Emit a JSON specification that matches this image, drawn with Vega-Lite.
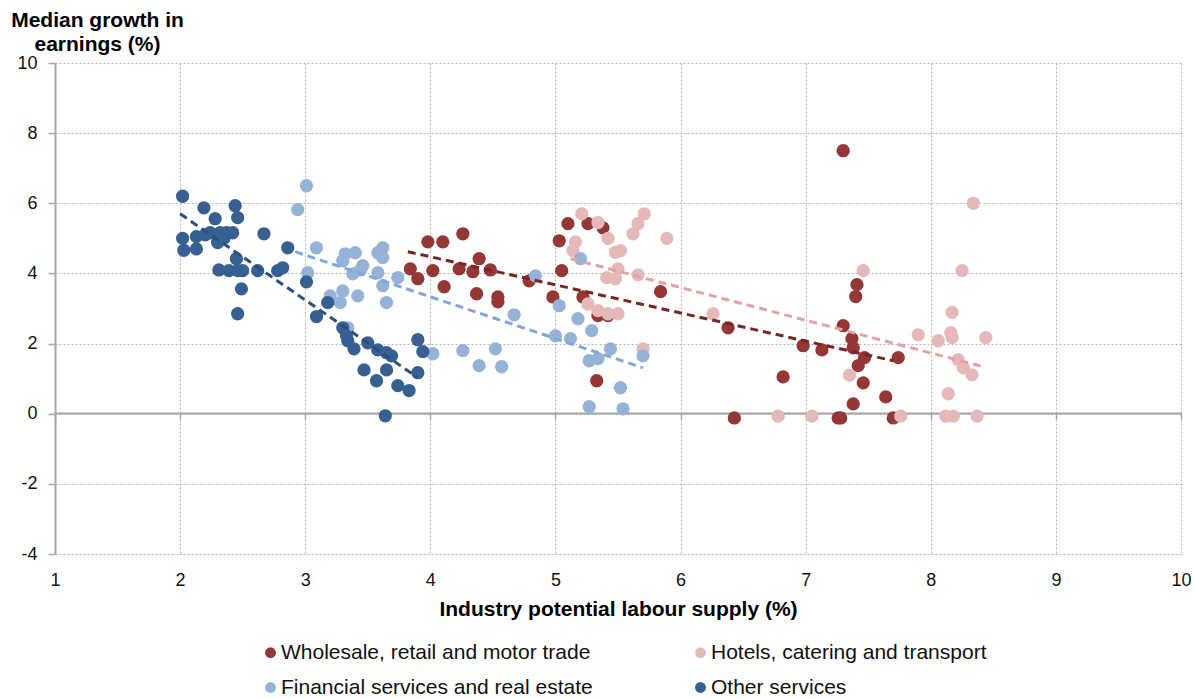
{
  "$schema": "https://vega.github.io/schema/vega-lite/v6.json",
  "width": 1126,
  "height": 491,
  "autosize": {"type": "none"},
  "padding": {"left": 55, "top": 63, "right": 14, "bottom": 145},
  "background": "white",
  "config": {
    "font": "Liberation Sans",
    "view": {"stroke": null},
    "axis": {"labelColor": "#111111", "titleColor": "#000000"}
  },
  "datasets": {
    "points": [
      {"industry": "Wholesale, retail and motor trade", "supply": 3.98, "growth": 4.9},
      {"industry": "Wholesale, retail and motor trade", "supply": 4.1, "growth": 4.9},
      {"industry": "Wholesale, retail and motor trade", "supply": 4.26, "growth": 5.13},
      {"industry": "Wholesale, retail and motor trade", "supply": 3.84, "growth": 4.13},
      {"industry": "Wholesale, retail and motor trade", "supply": 3.9, "growth": 3.85},
      {"industry": "Wholesale, retail and motor trade", "supply": 4.02, "growth": 4.08},
      {"industry": "Wholesale, retail and motor trade", "supply": 4.11, "growth": 3.62},
      {"industry": "Wholesale, retail and motor trade", "supply": 4.23, "growth": 4.13},
      {"industry": "Wholesale, retail and motor trade", "supply": 4.39, "growth": 4.42},
      {"industry": "Wholesale, retail and motor trade", "supply": 4.34, "growth": 4.05},
      {"industry": "Wholesale, retail and motor trade", "supply": 4.48, "growth": 4.1},
      {"industry": "Wholesale, retail and motor trade", "supply": 4.37, "growth": 3.42},
      {"industry": "Wholesale, retail and motor trade", "supply": 4.54, "growth": 3.33},
      {"industry": "Wholesale, retail and motor trade", "supply": 4.54, "growth": 3.19},
      {"industry": "Wholesale, retail and motor trade", "supply": 4.79, "growth": 3.79},
      {"industry": "Wholesale, retail and motor trade", "supply": 5.03, "growth": 4.93},
      {"industry": "Wholesale, retail and motor trade", "supply": 4.98, "growth": 3.33},
      {"industry": "Wholesale, retail and motor trade", "supply": 5.1, "growth": 5.42},
      {"industry": "Wholesale, retail and motor trade", "supply": 5.26, "growth": 5.42},
      {"industry": "Wholesale, retail and motor trade", "supply": 5.38, "growth": 5.3},
      {"industry": "Wholesale, retail and motor trade", "supply": 5.05, "growth": 4.08},
      {"industry": "Wholesale, retail and motor trade", "supply": 5.22, "growth": 3.33},
      {"industry": "Wholesale, retail and motor trade", "supply": 5.34, "growth": 2.8},
      {"industry": "Wholesale, retail and motor trade", "supply": 5.42, "growth": 2.8},
      {"industry": "Wholesale, retail and motor trade", "supply": 5.84, "growth": 3.48},
      {"industry": "Wholesale, retail and motor trade", "supply": 5.33, "growth": 0.94},
      {"industry": "Wholesale, retail and motor trade", "supply": 7.3, "growth": 7.5},
      {"industry": "Wholesale, retail and motor trade", "supply": 6.38, "growth": 2.45},
      {"industry": "Wholesale, retail and motor trade", "supply": 6.82, "growth": 1.05},
      {"industry": "Wholesale, retail and motor trade", "supply": 6.43, "growth": -0.12},
      {"industry": "Wholesale, retail and motor trade", "supply": 6.98, "growth": 1.94},
      {"industry": "Wholesale, retail and motor trade", "supply": 7.13, "growth": 1.82},
      {"industry": "Wholesale, retail and motor trade", "supply": 7.3, "growth": 2.51},
      {"industry": "Wholesale, retail and motor trade", "supply": 7.37, "growth": 2.14},
      {"industry": "Wholesale, retail and motor trade", "supply": 7.38, "growth": 1.88},
      {"industry": "Wholesale, retail and motor trade", "supply": 7.41, "growth": 3.68},
      {"industry": "Wholesale, retail and motor trade", "supply": 7.4, "growth": 3.34},
      {"industry": "Wholesale, retail and motor trade", "supply": 7.47, "growth": 1.6},
      {"industry": "Wholesale, retail and motor trade", "supply": 7.42, "growth": 1.37},
      {"industry": "Wholesale, retail and motor trade", "supply": 7.46, "growth": 0.88},
      {"industry": "Wholesale, retail and motor trade", "supply": 7.38, "growth": 0.28},
      {"industry": "Wholesale, retail and motor trade", "supply": 7.64, "growth": 0.48},
      {"industry": "Wholesale, retail and motor trade", "supply": 7.74, "growth": 1.6},
      {"industry": "Wholesale, retail and motor trade", "supply": 7.26, "growth": -0.12},
      {"industry": "Wholesale, retail and motor trade", "supply": 7.28, "growth": -0.12},
      {"industry": "Wholesale, retail and motor trade", "supply": 7.7, "growth": -0.12},
      {"industry": "Hotels, catering and transport", "supply": 5.21, "growth": 5.7},
      {"industry": "Hotels, catering and transport", "supply": 5.34, "growth": 5.45},
      {"industry": "Hotels, catering and transport", "supply": 5.16, "growth": 4.9},
      {"industry": "Hotels, catering and transport", "supply": 5.14, "growth": 4.65},
      {"industry": "Hotels, catering and transport", "supply": 5.42, "growth": 5.0},
      {"industry": "Hotels, catering and transport", "supply": 5.48, "growth": 4.6},
      {"industry": "Hotels, catering and transport", "supply": 5.52, "growth": 4.65},
      {"industry": "Hotels, catering and transport", "supply": 5.71, "growth": 5.7},
      {"industry": "Hotels, catering and transport", "supply": 5.66, "growth": 5.42},
      {"industry": "Hotels, catering and transport", "supply": 5.62, "growth": 5.13},
      {"industry": "Hotels, catering and transport", "supply": 5.89, "growth": 5.0},
      {"industry": "Hotels, catering and transport", "supply": 5.5, "growth": 4.13},
      {"industry": "Hotels, catering and transport", "supply": 5.41, "growth": 3.88},
      {"industry": "Hotels, catering and transport", "supply": 5.48, "growth": 3.85},
      {"industry": "Hotels, catering and transport", "supply": 5.66, "growth": 3.96},
      {"industry": "Hotels, catering and transport", "supply": 5.26, "growth": 3.13},
      {"industry": "Hotels, catering and transport", "supply": 5.34, "growth": 2.94},
      {"industry": "Hotels, catering and transport", "supply": 5.42, "growth": 2.85},
      {"industry": "Hotels, catering and transport", "supply": 5.5, "growth": 2.85},
      {"industry": "Hotels, catering and transport", "supply": 5.7, "growth": 1.85},
      {"industry": "Hotels, catering and transport", "supply": 6.26, "growth": 2.85},
      {"industry": "Hotels, catering and transport", "supply": 6.78, "growth": -0.07},
      {"industry": "Hotels, catering and transport", "supply": 7.05, "growth": -0.07},
      {"industry": "Hotels, catering and transport", "supply": 7.46, "growth": 4.08},
      {"industry": "Hotels, catering and transport", "supply": 7.35, "growth": 1.1},
      {"industry": "Hotels, catering and transport", "supply": 7.76, "growth": -0.07},
      {"industry": "Hotels, catering and transport", "supply": 7.9, "growth": 2.25},
      {"industry": "Hotels, catering and transport", "supply": 8.06, "growth": 2.08},
      {"industry": "Hotels, catering and transport", "supply": 8.16, "growth": 2.31},
      {"industry": "Hotels, catering and transport", "supply": 8.17, "growth": 2.89},
      {"industry": "Hotels, catering and transport", "supply": 8.17, "growth": 2.17},
      {"industry": "Hotels, catering and transport", "supply": 8.25, "growth": 4.08},
      {"industry": "Hotels, catering and transport", "supply": 8.34, "growth": 6.0},
      {"industry": "Hotels, catering and transport", "supply": 8.22, "growth": 1.54},
      {"industry": "Hotels, catering and transport", "supply": 8.26, "growth": 1.31},
      {"industry": "Hotels, catering and transport", "supply": 8.33, "growth": 1.11},
      {"industry": "Hotels, catering and transport", "supply": 8.44, "growth": 2.17},
      {"industry": "Hotels, catering and transport", "supply": 8.14, "growth": 0.57},
      {"industry": "Hotels, catering and transport", "supply": 8.12, "growth": -0.07},
      {"industry": "Hotels, catering and transport", "supply": 8.18, "growth": -0.07},
      {"industry": "Hotels, catering and transport", "supply": 8.37, "growth": -0.07},
      {"industry": "Financial services and real estate", "supply": 3.01, "growth": 6.5},
      {"industry": "Financial services and real estate", "supply": 2.94, "growth": 5.82},
      {"industry": "Financial services and real estate", "supply": 3.09, "growth": 4.73},
      {"industry": "Financial services and real estate", "supply": 3.02, "growth": 4.02},
      {"industry": "Financial services and real estate", "supply": 3.32, "growth": 4.56},
      {"industry": "Financial services and real estate", "supply": 3.4, "growth": 4.59},
      {"industry": "Financial services and real estate", "supply": 3.3, "growth": 4.36},
      {"industry": "Financial services and real estate", "supply": 3.46, "growth": 4.22},
      {"industry": "Financial services and real estate", "supply": 3.38, "growth": 3.99},
      {"industry": "Financial services and real estate", "supply": 3.44, "growth": 4.1},
      {"industry": "Financial services and real estate", "supply": 3.58, "growth": 4.59},
      {"industry": "Financial services and real estate", "supply": 3.62, "growth": 4.73},
      {"industry": "Financial services and real estate", "supply": 3.62, "growth": 4.45},
      {"industry": "Financial services and real estate", "supply": 3.58, "growth": 4.02},
      {"industry": "Financial services and real estate", "supply": 3.62, "growth": 3.65},
      {"industry": "Financial services and real estate", "supply": 3.74, "growth": 3.88},
      {"industry": "Financial services and real estate", "supply": 3.65, "growth": 3.17},
      {"industry": "Financial services and real estate", "supply": 3.42, "growth": 3.36},
      {"industry": "Financial services and real estate", "supply": 3.3, "growth": 3.5},
      {"industry": "Financial services and real estate", "supply": 3.2, "growth": 3.36},
      {"industry": "Financial services and real estate", "supply": 3.28, "growth": 3.17},
      {"industry": "Financial services and real estate", "supply": 3.34, "growth": 2.45},
      {"industry": "Financial services and real estate", "supply": 4.02, "growth": 1.71},
      {"industry": "Financial services and real estate", "supply": 4.26, "growth": 1.8},
      {"industry": "Financial services and real estate", "supply": 4.39, "growth": 1.37},
      {"industry": "Financial services and real estate", "supply": 4.52, "growth": 1.85},
      {"industry": "Financial services and real estate", "supply": 4.57, "growth": 1.34},
      {"industry": "Financial services and real estate", "supply": 4.67, "growth": 2.82},
      {"industry": "Financial services and real estate", "supply": 4.84, "growth": 3.93},
      {"industry": "Financial services and real estate", "supply": 5.0, "growth": 2.22},
      {"industry": "Financial services and real estate", "supply": 5.2, "growth": 4.42},
      {"industry": "Financial services and real estate", "supply": 5.03, "growth": 3.08},
      {"industry": "Financial services and real estate", "supply": 5.12, "growth": 2.14},
      {"industry": "Financial services and real estate", "supply": 5.18, "growth": 2.71},
      {"industry": "Financial services and real estate", "supply": 5.29, "growth": 2.37},
      {"industry": "Financial services and real estate", "supply": 5.44, "growth": 1.85},
      {"industry": "Financial services and real estate", "supply": 5.27, "growth": 1.51},
      {"industry": "Financial services and real estate", "supply": 5.34, "growth": 1.57},
      {"industry": "Financial services and real estate", "supply": 5.7, "growth": 1.65},
      {"industry": "Financial services and real estate", "supply": 5.52, "growth": 0.74},
      {"industry": "Financial services and real estate", "supply": 5.27, "growth": 0.2},
      {"industry": "Financial services and real estate", "supply": 5.54, "growth": 0.14},
      {"industry": "Other services", "supply": 2.02, "growth": 6.2},
      {"industry": "Other services", "supply": 2.02, "growth": 5.0},
      {"industry": "Other services", "supply": 2.03, "growth": 4.66},
      {"industry": "Other services", "supply": 2.13, "growth": 4.7},
      {"industry": "Other services", "supply": 2.13, "growth": 5.05},
      {"industry": "Other services", "supply": 2.19, "growth": 5.87},
      {"industry": "Other services", "supply": 2.2, "growth": 5.1},
      {"industry": "Other services", "supply": 2.24, "growth": 5.16},
      {"industry": "Other services", "supply": 2.28, "growth": 5.56},
      {"industry": "Other services", "supply": 2.3, "growth": 4.88},
      {"industry": "Other services", "supply": 2.32, "growth": 5.16},
      {"industry": "Other services", "supply": 2.35, "growth": 5.0},
      {"industry": "Other services", "supply": 2.37, "growth": 5.16},
      {"industry": "Other services", "supply": 2.42, "growth": 5.16},
      {"industry": "Other services", "supply": 2.31, "growth": 4.1},
      {"industry": "Other services", "supply": 2.39, "growth": 4.08},
      {"industry": "Other services", "supply": 2.44, "growth": 5.93},
      {"industry": "Other services", "supply": 2.46, "growth": 5.59},
      {"industry": "Other services", "supply": 2.45, "growth": 4.42},
      {"industry": "Other services", "supply": 2.46, "growth": 4.08},
      {"industry": "Other services", "supply": 2.5, "growth": 4.08},
      {"industry": "Other services", "supply": 2.49, "growth": 3.56},
      {"industry": "Other services", "supply": 2.46, "growth": 2.85},
      {"industry": "Other services", "supply": 2.62, "growth": 4.08},
      {"industry": "Other services", "supply": 2.67, "growth": 5.13},
      {"industry": "Other services", "supply": 2.78, "growth": 4.08},
      {"industry": "Other services", "supply": 2.82, "growth": 4.16},
      {"industry": "Other services", "supply": 2.86, "growth": 4.73},
      {"industry": "Other services", "supply": 3.01, "growth": 3.76},
      {"industry": "Other services", "supply": 3.09, "growth": 2.77},
      {"industry": "Other services", "supply": 3.18, "growth": 3.17},
      {"industry": "Other services", "supply": 3.3, "growth": 2.45},
      {"industry": "Other services", "supply": 3.33, "growth": 2.22},
      {"industry": "Other services", "supply": 3.34, "growth": 2.08},
      {"industry": "Other services", "supply": 3.39, "growth": 1.85},
      {"industry": "Other services", "supply": 3.5, "growth": 2.02},
      {"industry": "Other services", "supply": 3.47, "growth": 1.25},
      {"industry": "Other services", "supply": 3.58, "growth": 1.82},
      {"industry": "Other services", "supply": 3.57, "growth": 0.94},
      {"industry": "Other services", "supply": 3.65, "growth": 1.74},
      {"industry": "Other services", "supply": 3.65, "growth": 1.25},
      {"industry": "Other services", "supply": 3.69, "growth": 1.65},
      {"industry": "Other services", "supply": 3.74, "growth": 0.8},
      {"industry": "Other services", "supply": 3.83, "growth": 0.66},
      {"industry": "Other services", "supply": 3.64, "growth": -0.06},
      {"industry": "Other services", "supply": 3.9, "growth": 2.11},
      {"industry": "Other services", "supply": 3.94, "growth": 1.77},
      {"industry": "Other services", "supply": 3.9, "growth": 1.17}
    ],
    "trends": [
      {"trend": "Wholesale, retail and motor trade", "supply": 3.82, "growth": 4.62},
      {"trend": "Wholesale, retail and motor trade", "supply": 7.7, "growth": 1.51},
      {"trend": "Hotels, catering and transport", "supply": 5.12, "growth": 4.42},
      {"trend": "Hotels, catering and transport", "supply": 8.42, "growth": 1.34},
      {"trend": "Financial services and real estate", "supply": 2.92, "growth": 4.62},
      {"trend": "Financial services and real estate", "supply": 5.7, "growth": 1.31},
      {"trend": "Other services", "supply": 2.0, "growth": 5.7},
      {"trend": "Other services", "supply": 3.9, "growth": 1.03}
    ]
  },
  "resolve": {"axis": {"x": "independent"}, "scale": {"color": "independent"}},
  "layer": [
    {
      "data": {"name": "points"},
      "mark": {"type": "circle", "size": 177, "opacity": 1, "strokeWidth": 0},
      "encoding": {
        "x": {
          "field": "supply", "type": "quantitative",
          "scale": {"domain": [1, 10], "nice": false, "zero": false},
          "axis": {
            "orient": "bottom",
            "values": [1, 2, 3, 4, 5, 6, 7, 8, 9, 10],
            "title": "Industry potential labour supply (%)",
            "titleFontSize": 21, "titleFontWeight": "bold", "titlePadding": 9,
            "labelFontSize": 18, "labelPadding": 17, "labelFlush": false,
            "domain": false, "ticks": false,
            "grid": true, "gridColor": "#b4b4b4", "gridDash": [2, 2], "gridWidth": 1
          }
        },
        "y": {
          "field": "growth", "type": "quantitative",
          "scale": {"domain": [-4, 10], "nice": false, "zero": false},
          "axis": {
            "values": [-4, -2, 0, 2, 4, 6, 8, 10],
            "labelExpr": "datum.value + ''",
            "title": ["Median growth in", "earnings (%)"],
            "titleAngle": 0, "titleAlign": "center", "titleBaseline": "alphabetic",
            "titleX": 42, "titleY": -37, "titleLineHeight": 24,
            "titleFontSize": 21, "titleFontWeight": "bold",
            "labelFontSize": 18, "labelPadding": 11, "labelFlush": false,
            "domain": true, "domainColor": "#a6a6a6", "domainWidth": 2,
            "ticks": true, "tickColor": "#a6a6a6", "tickSize": 7, "tickWidth": 1.5,
            "grid": true, "gridColor": "#b4b4b4", "gridDash": [2, 2], "gridWidth": 1
          }
        },
        "color": {
          "field": "industry", "type": "nominal",
          "scale": {
            "domain": ["Wholesale, retail and motor trade", "Financial services and real estate", "Hotels, catering and transport", "Other services"],
            "range": ["#953735", "#95b3d7", "#e6b9b8", "#376092"]
          },
          "legend": {
            "title": null, "orient": "none", "legendX": 205, "legendY": 579,
            "columns": 2, "columnPadding": 97, "rowPadding": 13,
            "symbolType": "circle", "symbolSize": 120, "symbolStrokeWidth": 0,
            "labelFontSize": 21, "labelOffset": 0, "labelColor": "#111111",
            "labelLimit": 400
          }
        }
      }
    },
    {
      "data": {"name": "trends"},
      "mark": {"type": "line", "strokeDash": [8, 5], "strokeWidth": 3},
      "encoding": {
        "x": {
          "field": "supply", "type": "quantitative",
          "axis": {
            "orient": "top", "offset": -350,
            "values": [1, 2, 3, 4, 5, 6, 7, 8, 9, 10],
            "labels": false, "title": null, "grid": false,
            "domain": true, "domainColor": "#a6a6a6", "domainWidth": 2,
            "ticks": true, "tickColor": "#a6a6a6", "tickSize": -6, "tickWidth": 1.5
          }
        },
        "y": {"field": "growth", "type": "quantitative"},
        "color": {
          "field": "trend", "type": "nominal",
          "scale": {
            "domain": ["Wholesale, retail and motor trade", "Hotels, catering and transport", "Financial services and real estate", "Other services"],
            "range": ["#7a2424", "#e3a3a3", "#7ea8da", "#2c4f7c"]
          },
          "legend": null
        }
      }
    }
  ]
}
